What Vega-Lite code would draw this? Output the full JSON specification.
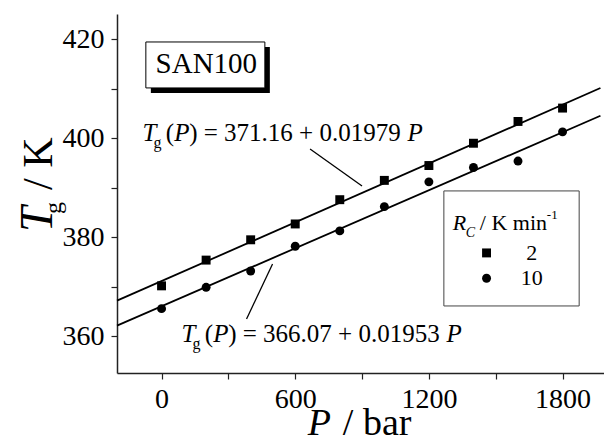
{
  "$schema": "https://vega.github.io/schema/vega-lite/v6.json",
  "width": 487,
  "height": 359,
  "autosize": "none",
  "padding": {"left": 117, "top": 14, "right": 0, "bottom": 69},
  "background": "white",
  "config": {
    "view": {"stroke": null},
    "font": "Liberation Serif",
    "axis": {"domain": true, "domainColor": "#222", "domainWidth": 1.5, "grid": false, "ticks": true, "tickColor": "#222", "tickWidth": 1.2, "tickSize": 6, "labelFont": "Liberation Serif", "labelFontSize": 28, "labelColor": "black", "labelOverlap": false}
  },
  "datasets": {
    "pts": [
      {"Rc": "2", "P": 0, "T": 370.2}, {"Rc": "2", "P": 200, "T": 375.4}, {"Rc": "2", "P": 400, "T": 379.5}, {"Rc": "2", "P": 600, "T": 382.7}, {"Rc": "2", "P": 800, "T": 387.6},
      {"Rc": "2", "P": 1000, "T": 391.5}, {"Rc": "2", "P": 1200, "T": 394.5}, {"Rc": "2", "P": 1400, "T": 399.0}, {"Rc": "2", "P": 1600, "T": 403.4}, {"Rc": "2", "P": 1800, "T": 406.1},
      {"Rc": "10", "P": 0, "T": 365.6}, {"Rc": "10", "P": 200, "T": 369.9}, {"Rc": "10", "P": 400, "T": 373.2}, {"Rc": "10", "P": 600, "T": 378.2}, {"Rc": "10", "P": 800, "T": 381.3},
      {"Rc": "10", "P": 1000, "T": 386.2}, {"Rc": "10", "P": 1200, "T": 391.2}, {"Rc": "10", "P": 1400, "T": 394.1}, {"Rc": "10", "P": 1600, "T": 395.4}, {"Rc": "10", "P": 1800, "T": 401.3}
    ],
    "fits": [
      {"Rc": "2", "P": -200, "T": 367.202}, {"Rc": "2", "P": 1970, "T": 410.146},
      {"Rc": "10", "P": -200, "T": 362.164}, {"Rc": "10", "P": 1970, "T": 404.544}
    ],
    "pointers": [
      {"id": 1, "P": 666.6, "T": 397.85}, {"id": 1, "P": 899.9, "T": 390.38},
      {"id": 2, "P": 381.5, "T": 363.52}, {"id": 2, "P": 498.2, "T": 374.62}
    ],
    "shadow": [{"P": -48.0, "P2": 486.1, "T": 418.45, "T2": 409.16}],
    "box": [{"P": -70.5, "P2": 463.7, "T": 419.45, "T2": 410.17}],
    "legbox": [{"P": 1267.2, "P2": 1874.5, "T": 389.37, "T2": 366.14}],
    "legsym": [{"Rc": "2", "P": 1458.8, "T": 376.85}, {"Rc": "10", "P": 1458.8, "T": 371.74}],
    "leglab": [{"s": "2", "P": 1662.2, "T": 376.85}, {"s": "10", "P": 1662.2, "T": 371.74}],
    "eqIt": [
      {"s": "T", "P": -85.3, "T": 399.46}, {"s": "P", "P": 56.6, "T": 399.46}, {"s": "P", "P": 1104.2, "T": 399.46},
      {"s": "T", "P": 89.8, "T": 358.87}, {"s": "P", "P": 231.6, "T": 358.87}, {"s": "P", "P": 1279.3, "T": 358.87}
    ],
    "eqRm": [
      {"s": "(", "P": 19.3, "T": 399.46}, {"s": ") = 371.16 + 0.01979", "P": 123.9, "T": 399.46},
      {"s": "(", "P": 194.4, "T": 358.87}, {"s": ") = 366.07 + 0.01953", "P": 298.9, "T": 358.87}
    ],
    "eqSub": [{"s": "g", "P": -35.9, "T": 398.05}, {"s": "g", "P": 139.2, "T": 357.46}],
    "san": [{"s": "SAN100", "P": 201.1, "T": 413.2}],
    "legR": [{"s": "R", "P": 1307.6, "T": 381.49}],
    "legC": [{"s": "C", "P": 1365.9, "T": 380.08}],
    "legRm": [{"s": "/ K min", "P": 1428.8, "T": 381.49}],
    "legSup": [{"s": "-1", "P": 1729.5, "T": 383.71}],
    "xIt": [{"s": "P", "P": 656.6, "T": 340.09}],
    "xRm": [{"s": "/ bar", "P": 813.8, "T": 340.09}],
    "yIt": [{"s": "T", "P": -492.4, "T": 381.09}],
    "ySub": [{"s": "g", "P": -452.0, "T": 384.72}],
    "yRm": [{"s": "/ K", "P": -492.4, "T": 389.57}]
  },
  "encoding": {
    "x": {"field": "P", "type": "quantitative", "scale": {"domain": [-200, 1986], "nice": false, "zero": false},
      "axis": {"values": [0, 300, 600, 900, 1200, 1500, 1800], "format": "d", "labelExpr": "datum.value % 600 === 0 ? datum.label : ''", "labelPadding": 6, "title": null}},
    "y": {"field": "T", "type": "quantitative", "scale": {"domain": [352.6, 425.1], "nice": false, "zero": false},
      "axis": {"values": [360, 370, 380, 390, 400, 410, 420], "format": "d", "labelExpr": "datum.value % 20 === 0 ? datum.label : ''", "labelPadding": 7, "title": null}}
  },
  "layer": [
    {"data": {"values": [{}]}, "mark": {"type": "rule", "color": "#222", "strokeWidth": 1.5}, "encoding": {"x": {"datum": -200}, "x2": {"datum": 1986}, "y": {"datum": 425.1}}},
    {"data": {"name": "shadow"}, "mark": {"type": "rect", "fill": "black"}, "encoding": {"x2": {"field": "P2"}, "y2": {"field": "T2"}}},
    {"data": {"name": "box"}, "mark": {"type": "rect", "fill": "white", "stroke": "black", "strokeWidth": 1}, "encoding": {"x2": {"field": "P2"}, "y2": {"field": "T2"}}},
    {"data": {"name": "legbox"}, "mark": {"type": "rect", "fill": "white", "stroke": "#444", "strokeWidth": 1}, "encoding": {"x2": {"field": "P2"}, "y2": {"field": "T2"}}},
    {"data": {"name": "fits"}, "mark": {"type": "line", "color": "black", "strokeWidth": 1.8}, "encoding": {"detail": {"field": "Rc"}}},
    {"data": {"name": "pointers"}, "mark": {"type": "line", "color": "black", "strokeWidth": 1.3}, "encoding": {"detail": {"field": "id"}}},
    {"data": {"name": "pts"}, "mark": {"type": "point", "filled": true, "color": "black", "size": 80, "opacity": 1},
      "encoding": {"shape": {"field": "Rc", "type": "nominal", "scale": {"domain": ["2", "10"], "range": ["square", "circle"]}, "legend": null}}},
    {"data": {"name": "legsym"}, "mark": {"type": "point", "filled": true, "color": "black", "size": 80, "opacity": 1},
      "encoding": {"shape": {"field": "Rc", "type": "nominal", "scale": {"domain": ["2", "10"], "range": ["square", "circle"]}, "legend": null}}},
    {"data": {"name": "leglab"}, "mark": {"type": "text", "fontSize": 22, "align": "center", "baseline": "middle", "color": "black"}, "encoding": {"text": {"field": "s"}}},
    {"data": {"name": "eqIt"}, "mark": {"type": "text", "fontSize": 25, "fontStyle": "italic", "align": "left", "baseline": "alphabetic", "color": "black"}, "encoding": {"text": {"field": "s"}}},
    {"data": {"name": "eqRm"}, "mark": {"type": "text", "fontSize": 25, "align": "left", "baseline": "alphabetic", "color": "black"}, "encoding": {"text": {"field": "s"}}},
    {"data": {"name": "eqSub"}, "mark": {"type": "text", "fontSize": 16, "align": "left", "baseline": "alphabetic", "color": "black"}, "encoding": {"text": {"field": "s"}}},
    {"data": {"name": "san"}, "mark": {"type": "text", "fontSize": 29, "align": "center", "baseline": "alphabetic", "color": "black"}, "encoding": {"text": {"field": "s"}}},
    {"data": {"name": "legR"}, "mark": {"type": "text", "fontSize": 22, "fontStyle": "italic", "align": "left", "baseline": "alphabetic", "color": "black"}, "encoding": {"text": {"field": "s"}}},
    {"data": {"name": "legC"}, "mark": {"type": "text", "fontSize": 14, "fontStyle": "italic", "align": "left", "baseline": "alphabetic", "color": "black"}, "encoding": {"text": {"field": "s"}}},
    {"data": {"name": "legRm"}, "mark": {"type": "text", "fontSize": 22, "align": "left", "baseline": "alphabetic", "color": "black"}, "encoding": {"text": {"field": "s"}}},
    {"data": {"name": "legSup"}, "mark": {"type": "text", "fontSize": 13, "align": "left", "baseline": "alphabetic", "color": "black"}, "encoding": {"text": {"field": "s"}}},
    {"data": {"name": "xIt"}, "mark": {"type": "text", "fontSize": 38, "fontStyle": "italic", "align": "left", "baseline": "alphabetic", "color": "black"}, "encoding": {"text": {"field": "s"}}},
    {"data": {"name": "xRm"}, "mark": {"type": "text", "fontSize": 38, "align": "left", "baseline": "alphabetic", "color": "black"}, "encoding": {"text": {"field": "s"}}},
    {"data": {"name": "yIt"}, "mark": {"type": "text", "fontSize": 46, "fontStyle": "italic", "angle": 270, "align": "left", "baseline": "alphabetic", "color": "black"}, "encoding": {"text": {"field": "s"}}},
    {"data": {"name": "ySub"}, "mark": {"type": "text", "fontSize": 24, "angle": 270, "align": "left", "baseline": "alphabetic", "color": "black"}, "encoding": {"text": {"field": "s"}}},
    {"data": {"name": "yRm"}, "mark": {"type": "text", "fontSize": 42, "angle": 270, "align": "left", "baseline": "alphabetic", "color": "black"}, "encoding": {"text": {"field": "s"}}}
  ]
}
